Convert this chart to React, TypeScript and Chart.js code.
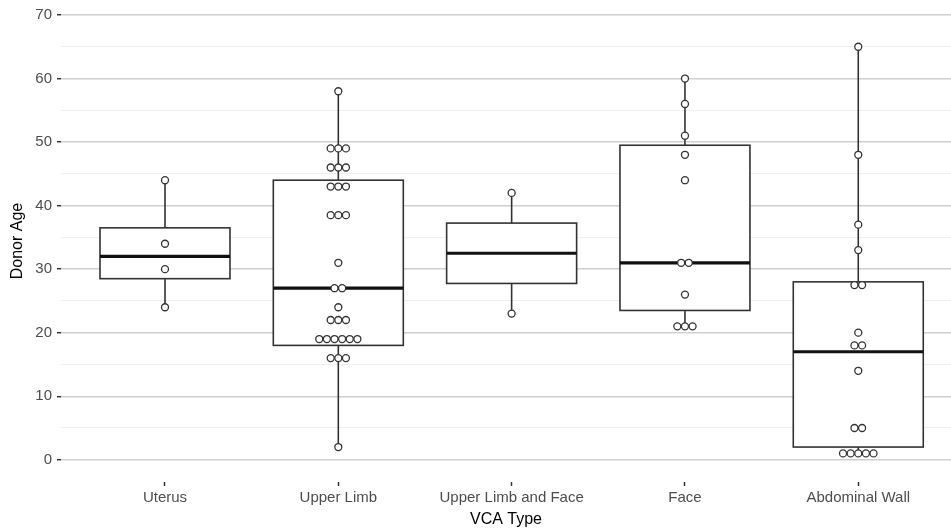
import React, { useEffect, useRef } from "react";
import { Chart, registerables } from "chart.js";

Chart.register(...registerables);

const categories = ["Uterus", "Upper Limb", "Upper Limb and Face", "Face", "Abdominal Wall"];

// Box statistics
const whiskerLow = [24, 2, 23, 21, 1];
const q1 = [28.5, 18, 27.75, 23.5, 2];
const medians = [32, 27, 32.5, 31, 17];
const q3 = [36.5, 44, 37.25, 49.5, 28];
const whiskerHigh = [44, 58, 42, 60, 65];

// Individual observations (dot plot)
const uterusAges = [44, 34, 30, 24];
const upperLimbAges = [58, 49, 49, 49, 46, 46, 46, 43, 43, 43, 38.5, 38.5, 38.5, 31, 27, 27, 24, 22, 22, 22, 19, 19, 19, 19, 19, 19, 16, 16, 16, 2];
const upperLimbFaceAges = [42, 23];
const faceAges = [60, 56, 51, 48, 44, 31, 31, 26, 21, 21, 21];
const abdominalWallAges = [65, 48, 37, 33, 27.5, 27.5, 20, 18, 18, 14, 5, 5, 1, 1, 1, 1, 1];

const yTicks = [0, 5, 10, 15, 20, 25, 30, 35, 40, 45, 50, 55, 60, 65, 70];

const groups = [uterusAges, upperLimbAges, upperLimbFaceAges, faceAges, abdominalWallAges];

const BOX_HALF = 0.375;
const DOT_STEP = 0.044;

function stackPoints() {
  const pts: { x: number; y: number }[] = [];
  groups.forEach((vals, i) => {
    const counts = new Map<number, number>();
    vals.forEach((v) => counts.set(v, (counts.get(v) || 0) + 1));
    counts.forEach((n, v) => {
      for (let k = 0; k < n; k++) {
        pts.push({ x: i + 1 + (k - (n - 1) / 2) * DOT_STEP, y: v });
      }
    });
  });
  return pts;
}

const boxPlugin = {
  id: "boxes",
  beforeDatasetsDraw(chart: any) {
    const { ctx, scales } = chart;
    const x = scales.x;
    const y = scales.y;
    ctx.save();
    categories.forEach((_, i) => {
      const c = i + 1;
      const xl = x.getPixelForValue(c - BOX_HALF);
      const xr = x.getPixelForValue(c + BOX_HALF);
      const xc = x.getPixelForValue(c);
      const yq1 = y.getPixelForValue(q1[i]);
      const yq3 = y.getPixelForValue(q3[i]);
      const ymed = y.getPixelForValue(medians[i]);
      const ylo = y.getPixelForValue(whiskerLow[i]);
      const yhi = y.getPixelForValue(whiskerHigh[i]);
      ctx.strokeStyle = "#333333";
      ctx.lineWidth = 1.6;
      ctx.beginPath();
      ctx.moveTo(xc, yhi);
      ctx.lineTo(xc, yq3);
      ctx.moveTo(xc, yq1);
      ctx.lineTo(xc, ylo);
      ctx.stroke();
      ctx.fillStyle = "#ffffff";
      ctx.fillRect(xl, yq3, xr - xl, yq1 - yq3);
      ctx.strokeRect(xl, yq3, xr - xl, yq1 - yq3);
      ctx.strokeStyle = "#111111";
      ctx.lineWidth = 3.2;
      ctx.beginPath();
      ctx.moveTo(xl, ymed);
      ctx.lineTo(xr, ymed);
      ctx.stroke();
    });
    ctx.restore();
  },
};

export default function App() {
  const ref = useRef<HTMLCanvasElement>(null);
  useEffect(() => {
    if (!ref.current) return;
    const chart = new Chart(ref.current, {
      type: "scatter",
      data: {
        datasets: [
          {
            data: stackPoints(),
            pointRadius: 3.5,
            pointBorderWidth: 1.3,
            pointBackgroundColor: "#ffffff",
            pointBorderColor: "#333333",
            showLine: false,
            clip: false,
          },
        ],
      },
      options: {
        animation: false,
        responsive: true,
        maintainAspectRatio: false,
        layout: { padding: 0, autoPadding: false },
        plugins: { legend: { display: false }, tooltip: { enabled: false } },
        scales: {
          x: {
            type: "linear",
            min: 0.4,
            max: 5.535,
            afterBuildTicks: (scale: any) => {
              scale.ticks = categories.map((_, i) => ({ value: i + 1 }));
            },
            afterFit: (scale: any) => {
              scale.height = 47;
              scale.paddingLeft = 0;
              scale.paddingRight = 0;
            },
            ticks: {
              autoSkip: false,
              maxRotation: 0,
              padding: 3,
              color: "#4d4d4d",
              font: { family: "Liberation Sans", size: 15 },
              callback: (v: any) => categories[Math.round(Number(v)) - 1] ?? "",
            },
            grid: {
              color: "rgba(0,0,0,0)",
              tickColor: "#333333",
              tickLength: 4,
              tickWidth: 1.5,
            },
            border: { display: false },
            title: {
              display: true,
              text: "VCA Type",
              color: "#000000",
              font: { family: "Liberation Sans", size: 16 },
              padding: { top: 0, bottom: 0 },
            },
          },
          y: {
            type: "linear",
            min: -3.5,
            max: 72.36,
            afterBuildTicks: (scale: any) => {
              scale.ticks = yTicks.map((v) => ({ value: v }));
            },
            afterFit: (scale: any) => {
              scale.width = 61;
              scale.paddingTop = 0;
              scale.paddingBottom = 0;
            },
            ticks: {
              padding: 5,
              color: "#4d4d4d",
              font: { family: "Liberation Sans", size: 15 },
              callback: (v: any) => (Number(v) % 10 === 0 ? String(v) : ""),
            },
            grid: {
              color: (c: any) => (c.tick && c.tick.value % 10 === 0 ? "#d0d0d0" : "#eeeeee"),
              lineWidth: (c: any) => (c.tick && c.tick.value % 10 === 0 ? 1.4 : 0.9),
              tickColor: (c: any) => (c.tick && c.tick.value % 10 === 0 ? "#333333" : "rgba(0,0,0,0)"),
              tickLength: 4,
              tickWidth: 1.5,
            },
            border: { display: false },
            title: {
              display: true,
              text: "Donor Age",
              color: "#000000",
              font: { family: "Liberation Sans", size: 16 },
              padding: { top: 8, bottom: 0 },
            },
          },
        },
      },
      plugins: [boxPlugin],
    });
    return () => chart.destroy();
  }, []);
  return (
    <div style={{ position: "fixed", left: 0, top: 0, width: 951, height: 529, background: "#ffffff" }}>
      <canvas ref={ref} />
    </div>
  );
}
